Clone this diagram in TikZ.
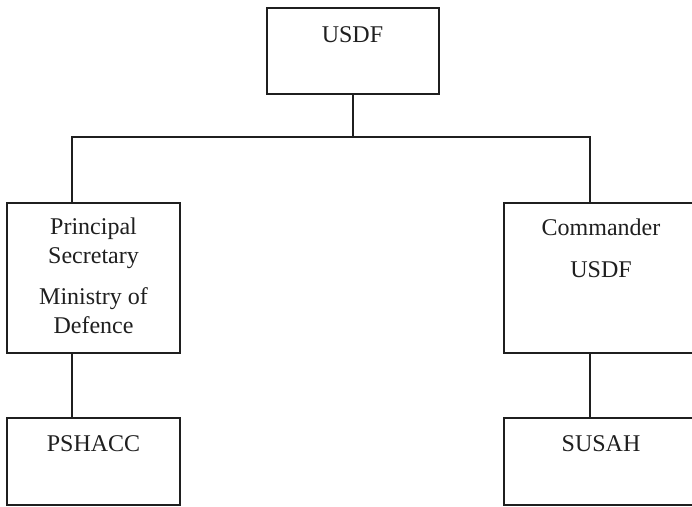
\documentclass[tikz,border=0pt]{standalone}
\usepackage{fontspec}
\setmainfont{Liberation Serif}
\begin{document}
\begin{tikzpicture}[x=1pt,y=-1pt,
  box/.style={draw=black!88,line width=1.5pt,inner sep=0pt},
  lbl/.style={anchor=base,inner sep=0pt,font=\fontsize{24}{28}\selectfont,text=black!88},
  conn/.style={draw=black!88,line width=1.5pt}]
\useasboundingbox (0,0) rectangle (692,506);
\fill[white] (0,0) rectangle (692,506);
% boxes
\node[box,minimum width=172pt,minimum height=86pt] (top) at (353,51) {};
\node[box,minimum width=173pt,minimum height=150pt] (left) at (93.5,278) {};
\node[box,minimum width=196pt,minimum height=150pt] (right) at (602,278) {};
\node[box,minimum width=173pt,minimum height=87pt] (pshacc) at (93.5,461.5) {};
\node[box,minimum width=196pt,minimum height=87pt] (susah) at (602,461.5) {};
% texts
\node[lbl] (t1) at (352.5,42) {USDF};
\node[lbl] (l1) at (93.5,234) {Principal};
\node[lbl] (l2) at (93.5,263) {Secretary};
\node[lbl] (l3) at (93.5,304) {Ministry of};
\node[lbl] (l4) at (93.5,333) {Defence};
\node[lbl] (r1) at (601,235) {Commander};
\node[lbl] (r2) at (601,277) {USDF};
\node[lbl] (b1) at (93.5,451) {PSHACC};
\node[lbl] (b2) at (601,451) {SUSAH};
% connectors
\coordinate (busL) at (72,137);
\coordinate (busR) at (590,137);
\draw[conn] (top.south) -- (top.south |- busL);
\draw[conn] (left.north -| busL) -- (busL) -- (busR) -- (right.north -| busR);
\draw[conn] (left.south -| busL) -- (pshacc.north -| busL);
\draw[conn] (right.south -| busR) -- (susah.north -| busR);
\end{tikzpicture}
\end{document}
